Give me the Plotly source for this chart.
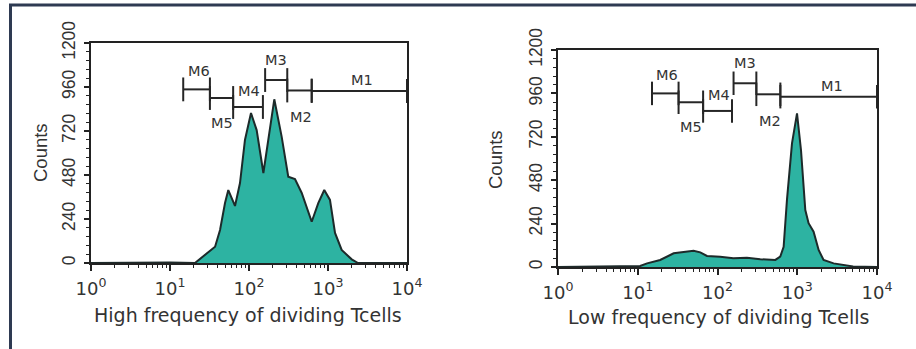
import math
import plotly.graph_objects as go

# ---------------- data ----------------
# Left panel: high frequency of dividing T cells (fluorescence, counts)
hi_x = [1, 4, 10, 20.7, 27.7, 37.2, 43, 49.7, 54.7, 66.5, 76.9, 88.9, 106, 125, 152,
        175, 209, 259, 314, 382, 465, 622, 753, 897, 1059, 1227, 1489, 1995, 2399, 10000]
hi_counts = [0, 2, 3, 0, 44, 89, 180, 327, 398, 311, 436, 671, 818, 725, 491,
             671, 893, 689, 471, 458, 382, 225, 327, 398, 344, 164, 71, 20, 0, 0]

# Right panel: low frequency of dividing T cells
lo_x = [1, 4, 7.9, 10.7, 13.1, 19.1, 28.2, 37.6, 50.1, 60.8, 73.8, 108, 158, 234, 344,
        531, 612, 675, 743, 859, 993, 1114, 1262, 1387, 1603, 1854, 2138, 2858, 3802, 5012, 10000]
lo_counts = [0, 2, 4, 6, 20, 39, 76, 85, 90, 81, 61, 57, 48, 51, 43,
             39, 57, 112, 371, 684, 850, 647, 315, 242, 195, 94, 39, 20, 11, 3, 0]

# Marker gates (M1..M6): lower bound, upper bound, bar height (counts)
gate_names = ["M1", "M2", "M3", "M4", "M5", "M6"]
hi_gate_lo = [622, 305, 160, 63, 32, 14.7]
hi_gate_hi = [10000, 622, 305, 150, 63, 32]
hi_gate_y = [938, 941, 998, 851, 900, 947]
lo_gate_lo = [614, 307, 159, 66, 32.5, 15.1]
lo_gate_hi = [10000, 614, 307, 152, 66, 32.5]
lo_gate_y = [942, 955, 1016, 863, 911, 960]

y_ticks = [0, 240, 480, 720, 960, 1200]
x_ticks = [1, 10, 100, 1000, 10000]
x_tick_text = ["10<sup>0</sup>", "10<sup>1</sup>", "10<sup>2</sup>", "10<sup>3</sup>", "10<sup>4</sup>"]
hi_title = "High frequency of dividing Tcells"
lo_title = "Low frequency of dividing Tcells"
y_title = "Counts"

# ---------------- style ----------------
W, H = 916, 349
FILL = "#2db3a2"
EDGE = "#1d2a2a"
TXT = "#333333"
FONT = "Liberation Sans"
WFONT = "DejaVu Sans"  # wider face for horizontal text
CAP = 65  # half height of gate end caps (counts)
# per-label pixel offsets (dx, dy), dy positive = up
label_off = {"M1": (3, 11), "M2": (2, -27), "M3": (0, 20), "M4": (1, 16), "M5": (0, -25), "M6": (2, 18)}

def px(x):
    return x / W

def py(y):
    return 1 - y / H

minor_vals = [m * 10 ** d for d in range(4) for m in range(2, 10)]

fig = go.Figure()

def add_panel(xs, cs, glo, ghi, gy, xa, ya):
    fig.add_trace(go.Scatter(x=xs, y=cs, mode="lines", fill="tozeroy",
                             fillcolor=FILL, line=dict(color=EDGE, width=2),
                             xaxis=xa, yaxis=ya, hoverinfo="skip", showlegend=False))
    gx, gyy = [], []
    for lo, hi, y in zip(glo, ghi, gy):
        gx += [lo, hi, None, lo, lo, None, hi, hi, None]
        gyy += [y, y, None, y - CAP, y + CAP, None, y - CAP, y + CAP, None]
    fig.add_trace(go.Scatter(x=gx, y=gyy, mode="lines", line=dict(color="#262626", width=2),
                             xaxis=xa, yaxis=ya, hoverinfo="skip", showlegend=False))
    for name, lo, hi, y in zip(gate_names, glo, ghi, gy):
        dx, dy = label_off[name]
        fig.add_annotation(x=(math.log10(lo) + math.log10(hi)) / 2, y=y, xref=xa, yref=ya,
                           text=name, showarrow=False, xshift=dx, yshift=dy,
                           font=dict(size=14.5, color=TXT, family=WFONT))

add_panel(hi_x, hi_counts, hi_gate_lo, hi_gate_hi, hi_gate_y, "x", "y")
add_panel(lo_x, lo_counts, lo_gate_lo, lo_gate_hi, lo_gate_y, "x2", "y2")

def xaxis(dom, anchor):
    return dict(type="log", range=[0, 4], domain=dom, anchor=anchor, automargin=False,
                tickmode="array", tickvals=x_ticks, ticktext=x_tick_text,
                ticks="outside", ticklen=6, tickwidth=1.5, tickcolor="#222",
                minor=dict(tickmode="array", tickvals=minor_vals, ticks="outside",
                           ticklen=3, tickcolor="#222", tickwidth=1),
                showline=True, linecolor="#222", linewidth=2, mirror=True,
                showgrid=False, zeroline=False, ticklabelstandoff=2,
                tickfont=dict(size=18, color=TXT, family=WFONT))

def yaxis(dom, anchor):
    return dict(range=[0, 1200], domain=dom, anchor=anchor, automargin=False,
                tickmode="array", tickvals=y_ticks, tickangle=-90,
                ticks="outside", ticklen=5, tickwidth=1.5, tickcolor="#222",
                minor=dict(dtick=48, ticks="outside", ticklen=3, tickcolor="#222", tickwidth=1),
                showline=True, linecolor="#222", linewidth=2, mirror=True,
                showgrid=False, zeroline=False, ticklabelstandoff=2,
                tickfont=dict(size=17.5, color=TXT, family=FONT))

fig.update_layout(
    width=W, height=H, margin=dict(l=0, r=0, t=0, b=0, autoexpand=False),
    paper_bgcolor="white", plot_bgcolor="white",
    xaxis=xaxis([px(91), px(407)], "y"),
    yaxis=yaxis([py(263), py(43)], "x"),
    xaxis2=xaxis([px(558), px(877)], "y2"),
    yaxis2=yaxis([py(267), py(50)], "x2"),
    font=dict(family=FONT, color=TXT),
)

# axis titles
for text, x, y, ang in [(y_title, 40, 153, -90), (y_title, 495, 159, -90),
                        (hi_title, 248, 315, 0), (lo_title, 718, 317, 0)]:
    fig.add_annotation(x=px(x), y=py(y), xref="paper", yref="paper", text=text,
                       showarrow=False, textangle=ang, xanchor="center", yanchor="middle",
                       font=dict(size=19 if ang == 0 else 18.5,
                                 color=TXT, family=WFONT if ang == 0 else FONT))

# outer frame (top and left edges)
fig.add_shape(type="line", xref="paper", yref="paper", x0=px(9), x1=1.0, y0=py(5), y1=py(5),
              line=dict(color="#2e3a52", width=3))
fig.add_shape(type="line", xref="paper", yref="paper", x0=px(10.5), x1=px(10.5), y0=py(4), y1=0,
              line=dict(color="#2e3a52", width=3))

fig.write_html("out.html", config={"displayModeBar": False},
               post_script="document.body.style.margin='0';document.body.style.overflow='hidden';")
